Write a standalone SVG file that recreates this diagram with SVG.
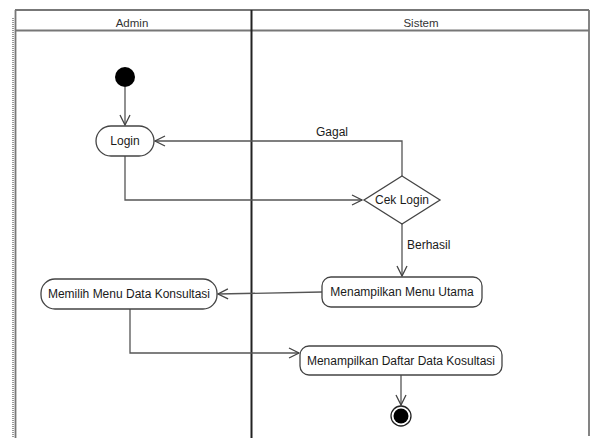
<svg xmlns="http://www.w3.org/2000/svg" width="592" height="438" viewBox="0 0 592 438">
<style>
text{font-family:"Liberation Sans",Arial,sans-serif;font-size:12px;fill:#1a1a1a}
.hd{font-size:11.5px;fill:#333}
.node{fill:#fff;stroke:#444;stroke-width:1.3}
.edge{fill:none;stroke:#555;stroke-width:1.3}
.lane{fill:none;stroke:#777;stroke-width:1.8}
</style>
<defs>
<marker id="arr" markerUnits="userSpaceOnUse" markerWidth="14" markerHeight="14" refX="11" refY="6" orient="auto" viewBox="0 0 14 12">
<path d="M1,1 L11,6 L1,11" fill="none" stroke="#444" stroke-width="1.3"/>
</marker>
</defs>
<rect width="592" height="438" fill="#fff"/>
<g id="pool">
<line x1="13" y1="18" x2="13" y2="438" stroke="#333" stroke-width="1" stroke-dasharray="1,1"/>
<line x1="15.5" y1="10" x2="15.5" y2="438" class="lane"/>
<line x1="15" y1="10" x2="589" y2="10" class="lane"/>
<line x1="15" y1="30.5" x2="589" y2="30.5" class="lane"/>
<line x1="589" y1="10" x2="589" y2="436" class="lane"/>
<line x1="251.5" y1="10" x2="251.5" y2="438" stroke="#222" stroke-width="2"/>
<text class="hd" x="132" y="27" text-anchor="middle">Admin</text>
<text class="hd" x="421" y="27" text-anchor="middle">Sistem</text>
</g>
<g id="edges">
<line class="edge" x1="125" y1="87" x2="125" y2="125" marker-end="url(#arr)"/>
<polyline class="edge" points="402,176 402,141 155,141" marker-end="url(#arr)"/>
<text x="332" y="136" text-anchor="middle">Gagal</text>
<polyline class="edge" points="125,156 125,200 362,200" marker-end="url(#arr)"/>
<line class="edge" x1="402" y1="224" x2="402" y2="276" marker-end="url(#arr)"/>
<text x="407" y="249">Berhasil</text>
<line class="edge" x1="322" y1="292" x2="218" y2="294" marker-end="url(#arr)"/>
<polyline class="edge" points="130,309 130,353 299,353" marker-end="url(#arr)"/>
<line class="edge" x1="401" y1="375" x2="401" y2="405" marker-end="url(#arr)"/>
</g>
<g id="start"><circle cx="125" cy="77" r="10" fill="#000"/></g>
<g id="login"><rect class="node" x="96" y="126" width="58" height="30" rx="15"/><text x="125" y="145" text-anchor="middle">Login</text></g>
<g id="ceklogin"><polygon class="node" points="402,176 440,200 402,224 364,200"/><text x="402" y="204" text-anchor="middle">Cek Login</text></g>
<g id="menuutama"><rect class="node" x="322" y="277" width="160" height="30" rx="9"/><text x="402" y="296" text-anchor="middle">Menampilkan Menu Utama</text></g>
<g id="memilih"><rect class="node" x="41" y="279" width="176" height="30" rx="14"/><text x="129" y="298" text-anchor="middle">Memilih Menu Data Konsultasi</text></g>
<g id="daftar"><rect class="node" x="300" y="346" width="202" height="29" rx="9"/><text x="401" y="365" text-anchor="middle">Menampilkan Daftar Data Kosultasi</text></g>
<g id="end"><circle cx="401" cy="416" r="10" fill="#fff" stroke="#222" stroke-width="1.3"/><circle cx="401" cy="416" r="7.5" fill="#000"/></g>
</svg>
